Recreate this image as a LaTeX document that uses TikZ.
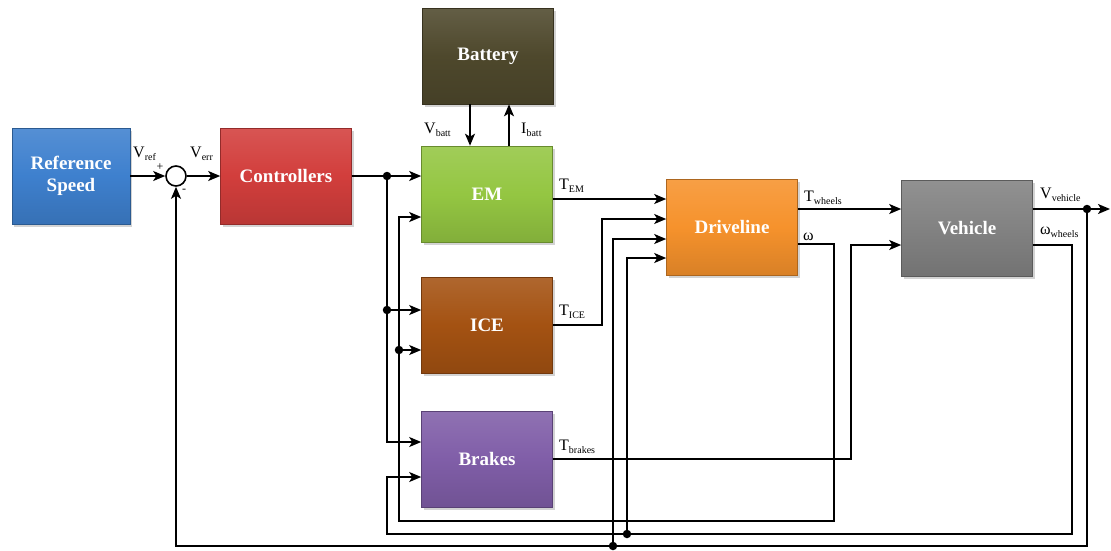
\documentclass[tikz,border=0pt]{standalone}
\usepackage{fontspec}
\setmainfont{Liberation Serif}
\usetikzlibrary{positioning, arrows.meta, shadows}

\definecolor{refblue}{RGB}{62,128,206}
\definecolor{ctrlred}{RGB}{210,62,60}
\definecolor{battolive}{RGB}{78,72,44}
\definecolor{emgreen}{RGB}{148,198,66}
\definecolor{icebrown}{RGB}{164,82,18}
\definecolor{brakepurple}{RGB}{128,94,168}
\definecolor{driveorange}{RGB}{246,146,44}
\definecolor{vehgray}{RGB}{130,130,130}

\newcommand{\lsub}[1]{\raisebox{-0.45ex}{\fontsize{10}{10}\selectfont #1}}

\begin{document}
\begin{tikzpicture}[
        x=1pt, y=-1pt,
        >={Stealth[length=12pt, width=10pt, inset=3pt]},
        block/.style={rectangle, draw=#1!70!black, line width=0.6pt,
                top color=#1!88!white, bottom color=#1!88!black, middle color=#1,
                minimum width=131pt, minimum height=96pt, align=center,
                text=white, font=\fontsize{19}{22}\selectfont\bfseries,
                drop shadow={opacity=0.35, shadow xshift=2pt, shadow yshift=-3pt}},
        sumnode/.style={circle, draw, line width=1.6pt, minimum size=20pt, inner sep=0pt},
        dot/.style={circle, fill, inner sep=0pt, minimum size=8.5pt},
        sig/.style={font=\fontsize{16}{18}\selectfont, inner sep=0pt, anchor=base west},
        sgn/.style={font=\fontsize{12}{12}\selectfont, inner sep=0pt},
        arrow/.style={->, line width=1.6pt},
    ]
    \useasboundingbox (0,0) rectangle (1111,550);

    % --- blocks -----------------------------------------------------
    \node[block=refblue, minimum width=118pt] (ref) at (71,176) {Reference\\Speed};
    \node[sumnode]                 (sum)     at (176,176) {};
    \node[block=ctrlred]           (ctrl)    at (286,176) {Controllers};
    \node[block=battolive]         (batt)    at (488,56)  {Battery};
    \node[block=emgreen]           (em)      at (487,194) {EM};
    \node[block=icebrown]          (ice)     at (487,325) {ICE};
    \node[block=brakepurple]       (brakes)  at (487,459) {Brakes};
    \node[block=driveorange]       (drive)   at (732,227) {Driveline};
    \node[block=vehgray]           (vehicle) at (967,228) {Vehicle};

    % --- branch points ----------------------------------------------
    \node[dot] (d1) at (387,176)  {};
    \node[dot] (d2) at (387,310)  {};
    \node[dot] (d3) at (399,350)  {};
    \node[dot] (d4) at (613,546)  {};
    \node[dot] (d5) at (627,534)  {};
    \node[dot] (d6) at (1087,209) {};

    % --- signal labels ----------------------------------------------
    \node[sig] (lvref)   at (133,157)  {V\lsub{ref}};
    \node[sig] (lverr)   at (190,157)  {V\lsub{err}};
    \node[sgn] (lplus)   at (160,167)  {+};
    \node[sgn] (lminus)  at (184,191)  {-};
    \node[sig] (lvbatt)  at (424,133)  {V\lsub{batt}};
    \node[sig] (libatt)  at (521,133)  {I\lsub{batt}};
    \node[sig] (ltem)    at (559,189)  {T\lsub{EM}};
    \node[sig] (ltice)   at (559,315)  {T\lsub{ICE}};
    \node[sig] (ltbrk)   at (559,450)  {T\lsub{brakes}};
    \node[sig] (ltwh)    at (804,201)  {T\lsub{wheels}};
    \node[sig] (lomega)  at (803,240)  {ω};
    \node[sig] (lvveh)   at (1040,198) {V\lsub{vehicle}};
    \node[sig] (lomwh)   at (1040,234) {ω\lsub{wheels}};

    % --- forward path -----------------------------------------------
    \draw[arrow] (ref) -- (sum);
    \draw[arrow] (sum) -- (ctrl);
    \draw[arrow] (ctrl) -- (em.west |- ctrl);
    \draw[arrow] (d1.center) |- (brakes.west |- 0,442);
    \draw[arrow] (d2.center) -- (ice.west |- d2);
    \draw[arrow] (d3.center) -- (ice.west |- d3);

    % battery
    \draw[arrow] (batt.south -| 470,0) -- (em.north -| 470,0);
    \draw[arrow] (em.north -| 509,0) -- (batt.south -| 509,0);

    % torques into driveline and vehicle
    \draw[arrow] (em.east |- 0,199) -- (drive.west |- 0,199);
    \draw[arrow] (ice.east) -- (602,325) |- (drive.west |- 0,219);
    \draw[arrow] (drive.east |- 0,209) -- (vehicle.west |- 0,209);
    \draw[arrow] (brakes.east) -- (851,459) |- (vehicle.west |- 0,245);
    \draw[arrow] (vehicle.east |- 0,209) -- (1110,209);

    % --- feedback loops ---------------------------------------------
    \draw[arrow] (drive.east |- 0,244) -- (834,244) -- (834,521) -- (399,521)
        -- (399,217) -- (em.west |- 0,217);
    \draw[arrow] (vehicle.east |- 0,245) -- (1072,245) -- (1072,534) -- (387,534)
        |- (brakes.west |- 0,477);
    \draw[arrow] (d6.center) -- (1087,546) -| (sum.south);
    \draw[arrow] (d4.center) |- (drive.west |- 0,239);
    \draw[arrow] (d5.center) |- (drive.west |- 0,258);
\end{tikzpicture}
\end{document}
